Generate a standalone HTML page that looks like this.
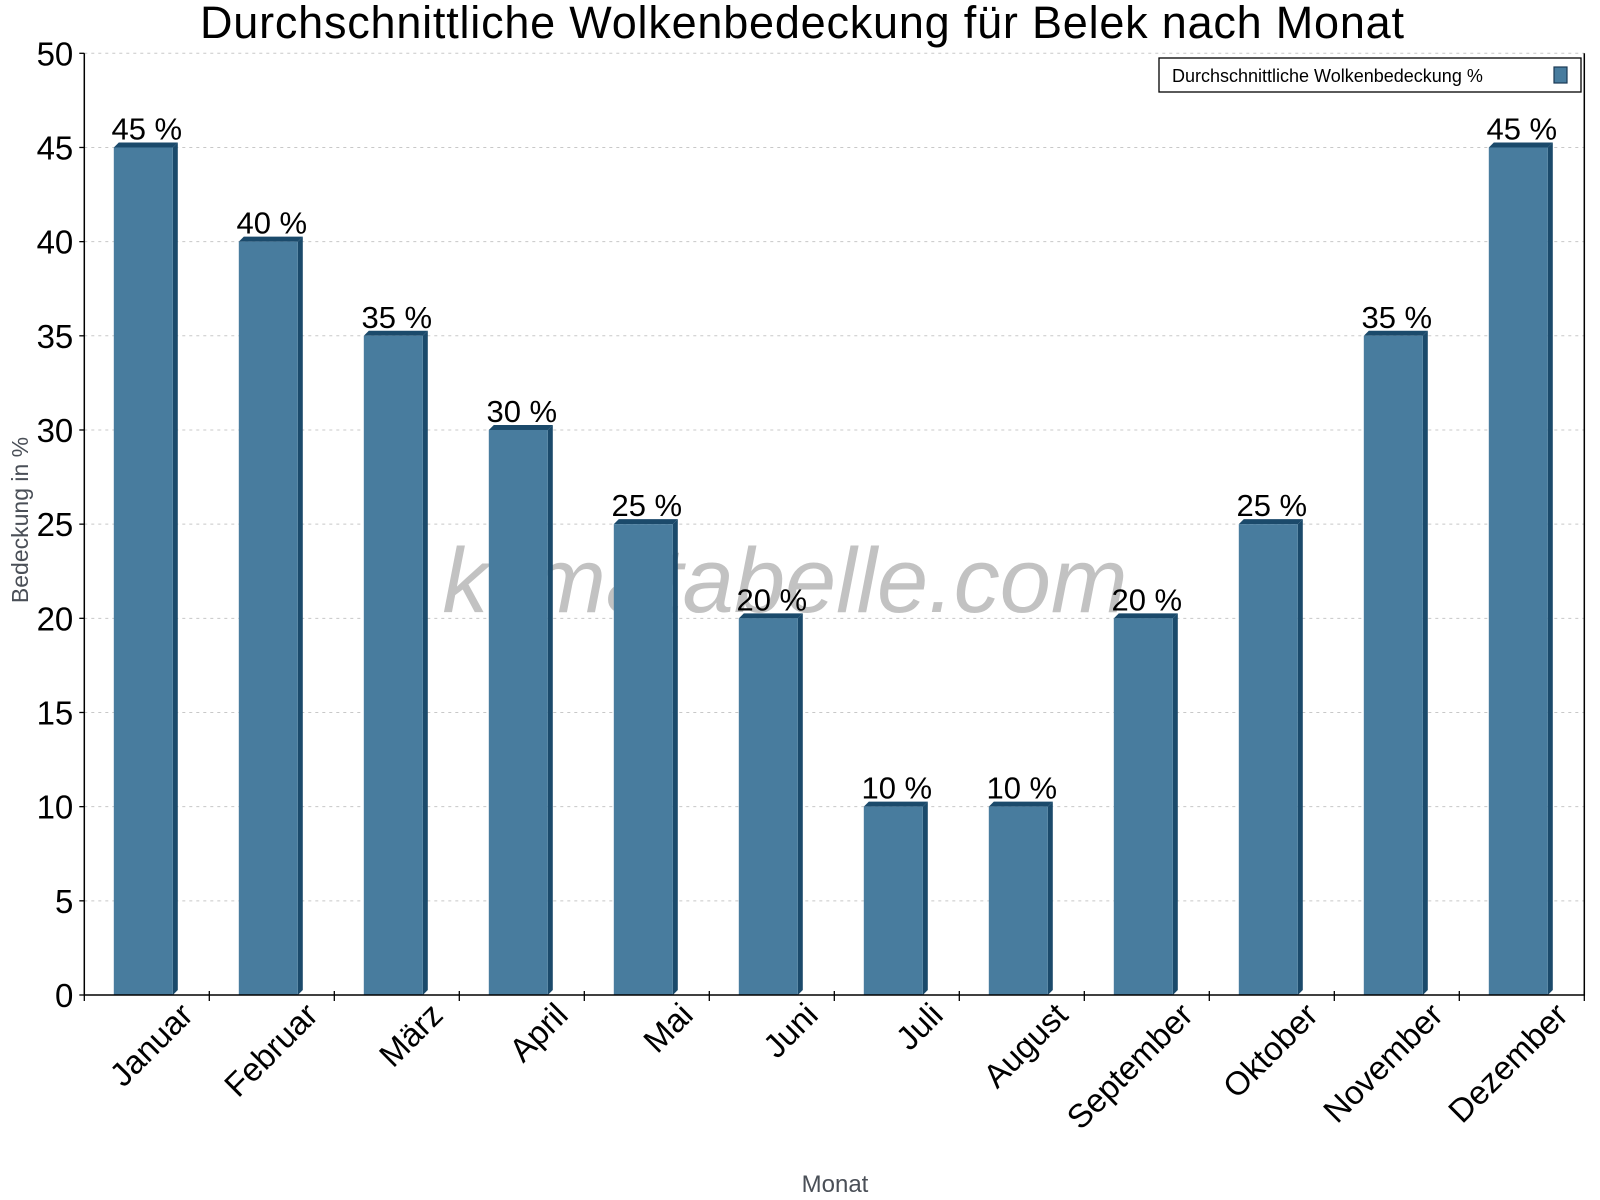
<!DOCTYPE html>
<html><head><meta charset="utf-8"><style>
body{margin:0;background:#fff;}
svg{display:block;font-family:"Liberation Sans",Arial,sans-serif;}
</style></head><body>
<svg id="chart" width="1600" height="1200" viewBox="0 0 1600 1200">
<text x="802" y="38" font-size="45" text-anchor="middle" textLength="1204">Durchschnittliche Wolkenbedeckung für Belek nach Monat</text>
<g id="grid"></g>
<text x="785" y="612" font-size="92" font-style="italic" fill="#999" fill-opacity="0.6" text-anchor="middle">klimatabelle.com</text>
<g id="bars"></g>
<g id="axes"></g>
<text transform="translate(28,520) rotate(-90)" font-size="23" fill="#4a4f57" text-anchor="middle">Bedeckung in %</text>
<text x="835" y="1192" font-size="24" fill="#4a4f57" text-anchor="middle">Monat</text>
<g>
<rect x="1159" y="58" width="422" height="34" fill="#fff" stroke="#000" stroke-width="1.3"/>
<text x="1172" y="82" font-size="18">Durchschnittliche Wolkenbedeckung %</text>
<rect x="1554" y="67" width="13" height="16" fill="#487c9e" stroke="#1b3a55" stroke-width="1.2"/>
</g>
</svg>
<script>
const categories=["Januar","Februar","März","April","Mai","Juni","Juli","August","September","Oktober","November","Dezember"];
const values=[45,40,35,30,25,20,10,10,20,25,35,45];
const yTicks=[0,5,10,15,20,25,30,35,40,45,50];
const NS="http://www.w3.org/2000/svg";
const X0=84.3,X1=1584.3,Y0=995,Y1=53.3,YMAX=50;
const bw=(X1-X0)/categories.length;
function y(v){return Y0-(v/YMAX)*(Y0-Y1);}
function xc(i){return X0+bw*(i+0.5);}
function mk(t,a,p){const e=document.createElementNS(NS,t);for(const k in a)e.setAttribute(k,a[k]);p.appendChild(e);return e;}
const grid=document.getElementById('grid'),bars=document.getElementById('bars'),axes=document.getElementById('axes');
yTicks.forEach(t=>{
 if(t>0){const g=mk('line',{x1:X0,x2:X1,y1:y(t),y2:y(t),stroke:'#c8c8c8','stroke-dasharray':'3,4','stroke-width':1},grid);
 
 }
 const tk=mk('line',{x1:X0-5,x2:X0,y1:y(t),y2:y(t),stroke:'#000','stroke-width':1.3},axes);
 
 
 const lb=mk('text',{x:X0-11,y:y(t)+12,'font-size':33,'text-anchor':'end'},axes);
 lb.textContent=t;
 
 
});
const W=59,D=5;
values.forEach((v,i)=>{
 const l=xc(i)-W/2-3.5,r=l+W,top=y(v);
 const g=mk('g',{},bars);
 
 
 mk('polygon',{points:`${r},${Y0} ${r},${top} ${r+D},${top-D} ${r+D},${Y0-D}`,fill:'#1b4a6b'},g);
 mk('polygon',{points:`${l},${top} ${l+D},${top-D} ${r+D},${top-D} ${r},${top}`,fill:'#1b4a6b'},g);
 mk('rect',{x:l,y:top,width:W,height:Y0-top,fill:'#487c9e'},g);
 const t=mk('text',{x:xc(i),y:top-8,'font-size':31,'text-anchor':'middle'},bars);
 t.textContent=v+' %';
 
 
 const tk=mk('line',{x1:X0+bw*(i+1),x2:X0+bw*(i+1),y1:Y0-4,y2:Y0+6,stroke:'#000','stroke-width':1.3},axes);
 
 
 const xl=mk('text',{transform:`translate(${xc(i)+48},${Y0+22}) rotate(-45)`,'font-size':33,'text-anchor':'end'},axes);
 xl.textContent=categories[i];
 
 
});
const ax=mk('path',{d:`M${X0},${Y1} L${X0},${Y0} L${X1},${Y0} L${X1},${Y1}`,fill:'none',stroke:'#000','stroke-width':1.5},axes);


const t0=mk('line',{x1:X0,x2:X0,y1:Y0,y2:Y0+6,stroke:'#000','stroke-width':1.3},axes);


</script>
</body></html>
